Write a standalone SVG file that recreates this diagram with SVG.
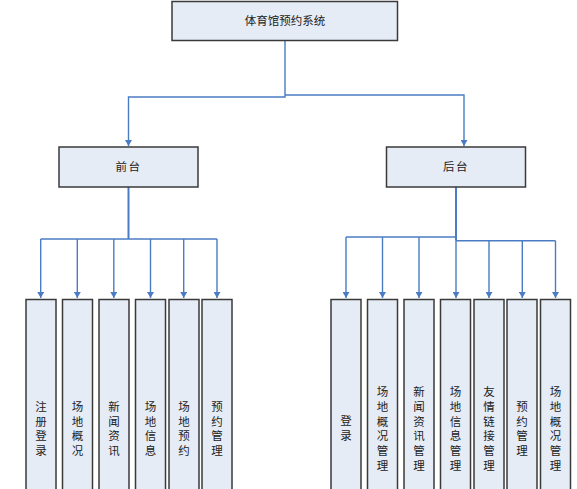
<svg xmlns="http://www.w3.org/2000/svg" width="577" height="489" viewBox="0 0 577 489">
<style>
.box{fill:#E6ECF6;stroke:#3a3a3a;stroke-width:1.5}
.t{font-family:"Noto Sans CJK SC","Liberation Sans",sans-serif;font-size:11.5px;fill:#222;text-anchor:middle}
.c{fill:none;stroke:#4A7CC4;stroke-width:1.4}
.trunk{fill:none;stroke:#4A7CC4;stroke-width:2}
</style>
<defs>
<marker id="ahd" markerWidth="7" markerHeight="6" refX="3.5" refY="6" orient="0" markerUnits="userSpaceOnUse">
<path d="M0,0 L7,0 L3.5,6 Z" fill="#4A7CC4"/>
</marker>
</defs>
<rect width="577" height="489" fill="#fff"/>
<g id="connectors">
<path class="c" d="M285,41 V97 H128.5 V146" marker-end="url(#ahd)"/>
<path class="c" d="M285,95 H464 V146" marker-end="url(#ahd)"/>
<path class="trunk" d="M128.5,187 V239"/>
<path class="c" d="M40.7,239 H217"/>
<path class="trunk" d="M456,187 V240.7"/>
<path class="c" d="M346,237 H456"/>
<path class="c" d="M456,240.7 H555.5"/>
<path class="c" d="M40.7,239 V298" marker-end="url(#ahd)"/>
<path class="c" d="M77.3,239 V298" marker-end="url(#ahd)"/>
<path class="c" d="M113.8,239 V298" marker-end="url(#ahd)"/>
<path class="c" d="M150.5,239 V298" marker-end="url(#ahd)"/>
<path class="c" d="M183.7,239 V298" marker-end="url(#ahd)"/>
<path class="c" d="M217,239 V298" marker-end="url(#ahd)"/>
<path class="c" d="M346,237 V298" marker-end="url(#ahd)"/>
<path class="c" d="M382.5,237 V298" marker-end="url(#ahd)"/>
<path class="c" d="M419,237 V298" marker-end="url(#ahd)"/>
<path class="c" d="M456,240.7 V298" marker-end="url(#ahd)"/>
<path class="c" d="M489,240.7 V298" marker-end="url(#ahd)"/>
<path class="c" d="M522.3,240.7 V298" marker-end="url(#ahd)"/>
<path class="c" d="M555.5,240.7 V298" marker-end="url(#ahd)"/>
</g>
<g id="root"><rect class="box" x="172" y="1.5" width="225.5" height="39"/><text class="t" x="285" y="24.5">体育馆预约系统</text></g>
<g id="qiantai"><rect class="box" x="59" y="147" width="139" height="40"/><text class="t" x="128.5" y="170.5" letter-spacing="1.5">前台</text></g>
<g id="houtai"><rect class="box" x="386.5" y="147" width="139" height="40"/><text class="t" x="456" y="170.5" letter-spacing="1.5">后台</text></g>

<g id="f1"><rect class="box" x="26" y="299.5" width="30" height="200"/><text class="t"><tspan x="41" y="411">注</tspan><tspan x="41" dy="14.6">册</tspan><tspan x="41" dy="14.6">登</tspan><tspan x="41" dy="14.6">录</tspan></text></g>
<g id="f2"><rect class="box" x="62.5" y="299.5" width="30" height="200"/><text class="t"><tspan x="77.5" y="411">场</tspan><tspan x="77.5" dy="14.6">地</tspan><tspan x="77.5" dy="14.6">概</tspan><tspan x="77.5" dy="14.6">况</tspan></text></g>
<g id="f3"><rect class="box" x="99" y="299.5" width="30" height="200"/><text class="t"><tspan x="114" y="411">新</tspan><tspan x="114" dy="14.6">闻</tspan><tspan x="114" dy="14.6">资</tspan><tspan x="114" dy="14.6">讯</tspan></text></g>
<g id="f4"><rect class="box" x="135.5" y="299.5" width="30" height="200"/><text class="t"><tspan x="150.5" y="411">场</tspan><tspan x="150.5" dy="14.6">地</tspan><tspan x="150.5" dy="14.6">信</tspan><tspan x="150.5" dy="14.6">息</tspan></text></g>
<g id="f5"><rect class="box" x="169" y="299.5" width="30" height="200"/><text class="t"><tspan x="184" y="411">场</tspan><tspan x="184" dy="14.6">地</tspan><tspan x="184" dy="14.6">预</tspan><tspan x="184" dy="14.6">约</tspan></text></g>
<g id="f6"><rect class="box" x="202" y="299.5" width="30" height="200"/><text class="t"><tspan x="217" y="411">预</tspan><tspan x="217" dy="14.6">约</tspan><tspan x="217" dy="14.6">管</tspan><tspan x="217" dy="14.6">理</tspan></text></g>

<g id="b1"><rect class="box" x="331" y="299.5" width="30" height="200"/><text class="t"><tspan x="346" y="425">登</tspan><tspan x="346" dy="14.6">录</tspan></text></g>
<g id="b2"><rect class="box" x="367.5" y="299.5" width="30" height="200"/><text class="t"><tspan x="382.5" y="396">场</tspan><tspan x="382.5" dy="14.8">地</tspan><tspan x="382.5" dy="14.8">概</tspan><tspan x="382.5" dy="14.8">况</tspan><tspan x="382.5" dy="14.8">管</tspan><tspan x="382.5" dy="14.8">理</tspan></text></g>
<g id="b3"><rect class="box" x="404" y="299.5" width="30" height="200"/><text class="t"><tspan x="419" y="396">新</tspan><tspan x="419" dy="14.8">闻</tspan><tspan x="419" dy="14.8">资</tspan><tspan x="419" dy="14.8">讯</tspan><tspan x="419" dy="14.8">管</tspan><tspan x="419" dy="14.8">理</tspan></text></g>
<g id="b4"><rect class="box" x="440.5" y="299.5" width="30" height="200"/><text class="t"><tspan x="455.5" y="396">场</tspan><tspan x="455.5" dy="14.8">地</tspan><tspan x="455.5" dy="14.8">信</tspan><tspan x="455.5" dy="14.8">息</tspan><tspan x="455.5" dy="14.8">管</tspan><tspan x="455.5" dy="14.8">理</tspan></text></g>
<g id="b5"><rect class="box" x="474" y="299.5" width="30" height="200"/><text class="t"><tspan x="489" y="396">友</tspan><tspan x="489" dy="14.8">情</tspan><tspan x="489" dy="14.8">链</tspan><tspan x="489" dy="14.8">接</tspan><tspan x="489" dy="14.8">管</tspan><tspan x="489" dy="14.8">理</tspan></text></g>
<g id="b6"><rect class="box" x="507" y="299.5" width="30" height="200"/><text class="t"><tspan x="522" y="411">预</tspan><tspan x="522" dy="14.6">约</tspan><tspan x="522" dy="14.6">管</tspan><tspan x="522" dy="14.6">理</tspan></text></g>
<g id="b7"><rect class="box" x="540.5" y="299.5" width="30" height="200"/><text class="t"><tspan x="555.5" y="396">场</tspan><tspan x="555.5" dy="14.8">地</tspan><tspan x="555.5" dy="14.8">概</tspan><tspan x="555.5" dy="14.8">况</tspan><tspan x="555.5" dy="14.8">管</tspan><tspan x="555.5" dy="14.8">理</tspan></text></g>
</svg>
